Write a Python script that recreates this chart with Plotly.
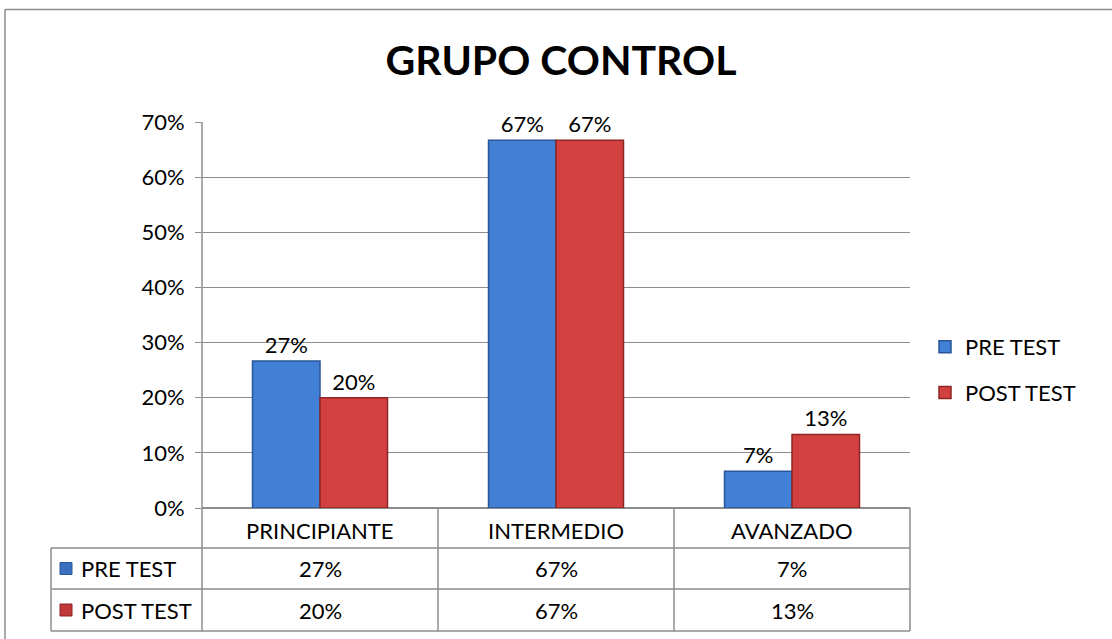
import plotly.graph_objects as go

categories = ["PRINCIPIANTE", "INTERMEDIO", "AVANZADO"]
series_names = ["PRE TEST", "POST TEST"]
pre_test = [0.2667, 0.6667, 0.0667]
post_test = [0.2000, 0.6667, 0.1333]
y_ticks = [0, 0.1, 0.2, 0.3, 0.4, 0.5, 0.6, 0.7]
title_text = "GRUPO CONTROL"

W, H = 1112, 639
L, R, T, B = 202, 910, 122, 508
FONT = "Lato"
FS = 22
GRID = "#8c8c8c"
fills = ["#4180d4", "#d24040"]
edges = ["#2a5699", "#8e2424"]
keys = ["#3a70c0", "#c03838"]

def px(x):
    return (x - L) / (R - L)

def py(y):
    return (B - y) / (B - T)

fig = go.Figure()
for i, (name, vals) in enumerate(zip(series_names, [pre_test, post_test])):
    fig.add_trace(go.Bar(
        x=categories, y=vals, name=name, legendgroup=name,
        marker=dict(color=fills[i], line=dict(color=edges[i], width=1.5)),
        texttemplate="%{y:.0%}", textposition="outside", cliponaxis=False,
        textfont=dict(family=FONT, size=FS, color="#000"),
    ))

shapes = []
line = dict(color=GRID, width=1.5)
# outer chart border (left + top)
shapes.append(dict(type="line", xref="paper", yref="paper", x0=px(5), x1=px(5), y0=py(9.5), y1=py(H + 5), line=line))
shapes.append(dict(type="line", xref="paper", yref="paper", x0=px(5), x1=px(W + 5), y0=py(9.5), y1=py(9.5), line=line))
# table grid
row_lines = [548, 589, 631]
for yy in row_lines:
    shapes.append(dict(type="line", xref="paper", yref="paper", x0=px(51), x1=px(R), y0=py(yy), y1=py(yy), line=line))
shapes.append(dict(type="line", xref="paper", yref="paper", x0=px(51), x1=px(51), y0=py(548), y1=py(631), line=line))
for k in range(len(categories) + 1):
    xx = k / len(categories)
    y_top = py(T) if k == 0 else py(B)
    shapes.append(dict(type="line", xref="paper", yref="paper", x0=xx, x1=xx, y0=y_top, y1=py(631), line=line))
# legend keys in the table
row_centers = [568.5, 610]
for i, yc in enumerate(row_centers):
    shapes.append(dict(type="rect", xref="paper", yref="paper", x0=px(60), x1=px(72), y0=py(yc - 6), y1=py(yc + 6),
                       fillcolor=keys[i], line=dict(color=edges[i], width=1)))

annotations = []
for c in categories:
    annotations.append(dict(x=c, xref="x", y=py(530), yref="paper", text=c, showarrow=False,
                            font=dict(family=FONT, size=FS, color="#000"), yanchor="middle"))
for i, (name, vals) in enumerate(zip(series_names, [pre_test, post_test])):
    annotations.append(dict(x=px(79), xref="paper", y=py(row_centers[i]), yref="paper", text=name, showarrow=False,
                            xanchor="left", yanchor="middle", font=dict(family=FONT, size=FS, color="#000")))
    for c, v in zip(categories, vals):
        annotations.append(dict(x=c, xref="x", y=py(row_centers[i]), yref="paper", text=f"{round(v * 100)}%",
                                showarrow=False, yanchor="middle", font=dict(family=FONT, size=FS, color="#000")))

fig.update_layout(
    width=W, height=H,
    margin=dict(l=L, r=W - R, t=T, b=H - B, pad=0),
    paper_bgcolor="white", plot_bgcolor="white",
    title=dict(text=f"<b>{title_text}</b>", x=561 / W, xanchor="center", y=1 - 61 / H, yanchor="middle",
               yref="container", font=dict(family=FONT, size=41, color="#000")),
    barmode="group", bargap=0.428, bargroupgap=0,
    showlegend=True,
    legend=dict(x=px(925), xanchor="left", y=py(326), yanchor="top", font=dict(family=FONT, size=FS, color="#000"),
                bgcolor="rgba(0,0,0,0)", tracegroupgap=14, itemwidth=30),
    xaxis=dict(showticklabels=False, showline=False, ticks="", showgrid=False, range=[-0.5, 2.5]),
    yaxis=dict(range=[0, 0.7], tickvals=y_ticks, tickformat=".0%", showgrid=True, gridcolor=GRID, gridwidth=1,
               ticks="outside", ticklen=6, tickcolor=GRID, showline=False, zeroline=True, zerolinecolor=GRID,
               zerolinewidth=1.5, tickfont=dict(family=FONT, size=FS, color="#000"), ticklabelstandoff=6),
    shapes=shapes, annotations=annotations,
)
fig.write_html("out.html", config={"displayModeBar": False},
               post_script="document.body.style.margin='0';document.body.style.overflow='hidden';")
